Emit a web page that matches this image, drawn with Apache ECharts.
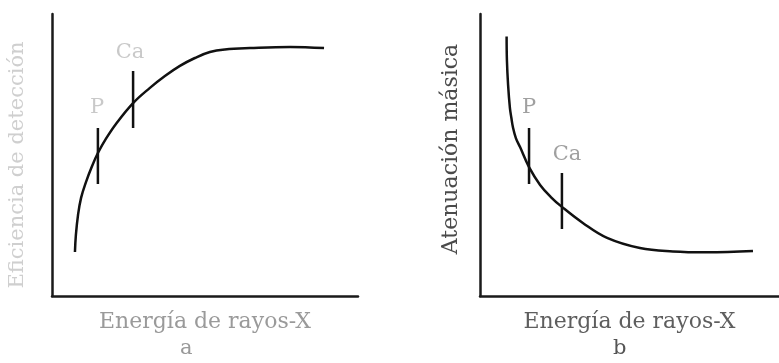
<!DOCTYPE html>
<html><head><meta charset="utf-8">
<script src="https://cdn.jsdelivr.net/npm/echarts@6/dist/echarts.min.js"></script>
<style>html,body{margin:0;padding:0;background:#fff}#c{width:779px;height:363px}</style>
</head><body><div id="c"></div>
<script>
const xTitle = 'Energía de rayos-X';
const yTitleA = 'Eficiencia de detección';
const yTitleB = 'Atenuación másica';
const panelTags = ['a', 'b'];
const markNames = ['P', 'Ca'];

// panel a: detection efficiency vs energy
const curveA = [[7.5,15.6],[7.8,21.6],[8.5,28.7],[9.5,34.8],[11.1,40.4],[13.1,46.1],[15.0,50.7],[17.6,55.7],[20.9,61.0],[26.5,68.4],[32.0,73.8],[36.9,78.0],[41.8,81.6],[46.7,84.4],[51.6,86.5],[56.5,87.4],[64.7,87.9],[77.8,88.3],[88.9,87.9]];
const marksAx = [15.0, 26.5];
const marksAlow = [39.7, 59.6];
const marksAhigh = [59.6, 79.8];
const labelsA = [[14.7, 67.0], [25.5, 86.2]];

// panel b: mass attenuation vs energy
const curveB = [[8.9,92.0],[9.0,83.7],[9.4,74.8],[10.0,66.7],[10.5,63.1],[11.0,59.9],[12.0,56.0],[13.4,52.8],[16.4,45.7],[20.1,39.4],[23.7,35.1],[27.4,31.6],[34.4,25.9],[42.5,20.6],[53.5,17.0],[64.5,15.8],[75.9,15.5],[91.3,16.0]];
const marksBx = [16.4, 27.4];
const marksBlow = [39.7, 23.8];
const marksBhigh = [59.6, 43.6];
const labelsB = [[16.4, 67.0], [29.1, 50.0]];

const FONT = 'DejaVu Serif';
const chart = echarts.init(document.getElementById('c'));

function axisBase(extra) {
  return Object.assign({
    type: 'value', min: 0, max: 100,
    axisLabel: { show: false }, axisTick: { show: false }, splitLine: { show: false },
    axisLine: { lineStyle: { color: '#1a1a1a', width: 2.5 } }
  }, extra);
}

function tickSeries(gi, xs, lo, hi) {
  return xs.map((x, i) => ({
    type: 'line', xAxisIndex: gi, yAxisIndex: gi, symbol: 'none', silent: true,
    lineStyle: { color: '#111', width: 2.5 },
    data: [[x, lo[i]], [x, hi[i]]]
  }));
}

function labelSeries(gi, pts, color) {
  return {
    type: 'scatter', xAxisIndex: gi, yAxisIndex: gi, symbolSize: 0, silent: true,
    label: { show: true, position: 'inside', formatter: p => p.name,
      fontFamily: FONT, fontSize: 21, color: color },
    data: pts.map((p, i) => ({ name: markNames[i], value: p }))
  };
}

chart.setOption({
  animation: false,
  backgroundColor: '#fff',
  grid: [
    { left: 52, top: 14, width: 306, height: 282 },
    { left: 480, top: 14, width: 299, height: 282 }
  ],
  xAxis: [
    axisBase({ gridIndex: 0, name: xTitle, nameLocation: 'middle', nameGap: 15,
      nameTextStyle: { fontFamily: FONT, fontSize: 22, color: '#9a9a9a' } }),
    axisBase({ gridIndex: 1, name: xTitle, nameLocation: 'middle', nameGap: 15,
      nameTextStyle: { fontFamily: FONT, fontSize: 22, color: '#5e5e5e' } })
  ],
  yAxis: [
    axisBase({ gridIndex: 0, name: yTitleA, nameLocation: 'middle', nameGap: 24, nameRotate: 90,
      nameTextStyle: { fontFamily: FONT, fontSize: 21, color: '#cfcfcf', padding: [0, 20, 0, 0] } }),
    axisBase({ gridIndex: 1, name: yTitleB, nameLocation: 'middle', nameGap: 18, nameRotate: 90,
      nameTextStyle: { fontFamily: FONT, fontSize: 22, color: '#4a4a4a', padding: [0, 0, 0, 12] } })
  ],
  graphic: [
    { type: 'text', left: 180, top: 338, style: { text: panelTags[0], font: '21px "DejaVu Serif"', fill: '#999' } },
    { type: 'text', left: 613, top: 338, style: { text: panelTags[1], font: '21px "DejaVu Serif"', fill: '#555' } }
  ],
  series: [
    { type: 'line', xAxisIndex: 0, yAxisIndex: 0, data: curveA, smooth: 0.4, symbol: 'none',
      lineStyle: { color: '#111', width: 2.5 } },
    { type: 'line', xAxisIndex: 1, yAxisIndex: 1, data: curveB, smooth: 0.4, symbol: 'none',
      lineStyle: { color: '#111', width: 2.5 } },
    ...tickSeries(0, marksAx, marksAlow, marksAhigh),
    ...tickSeries(1, marksBx, marksBlow, marksBhigh),
    labelSeries(0, labelsA, '#bbb'),
    labelSeries(1, labelsB, '#888')
  ]
});
</script></body></html>
